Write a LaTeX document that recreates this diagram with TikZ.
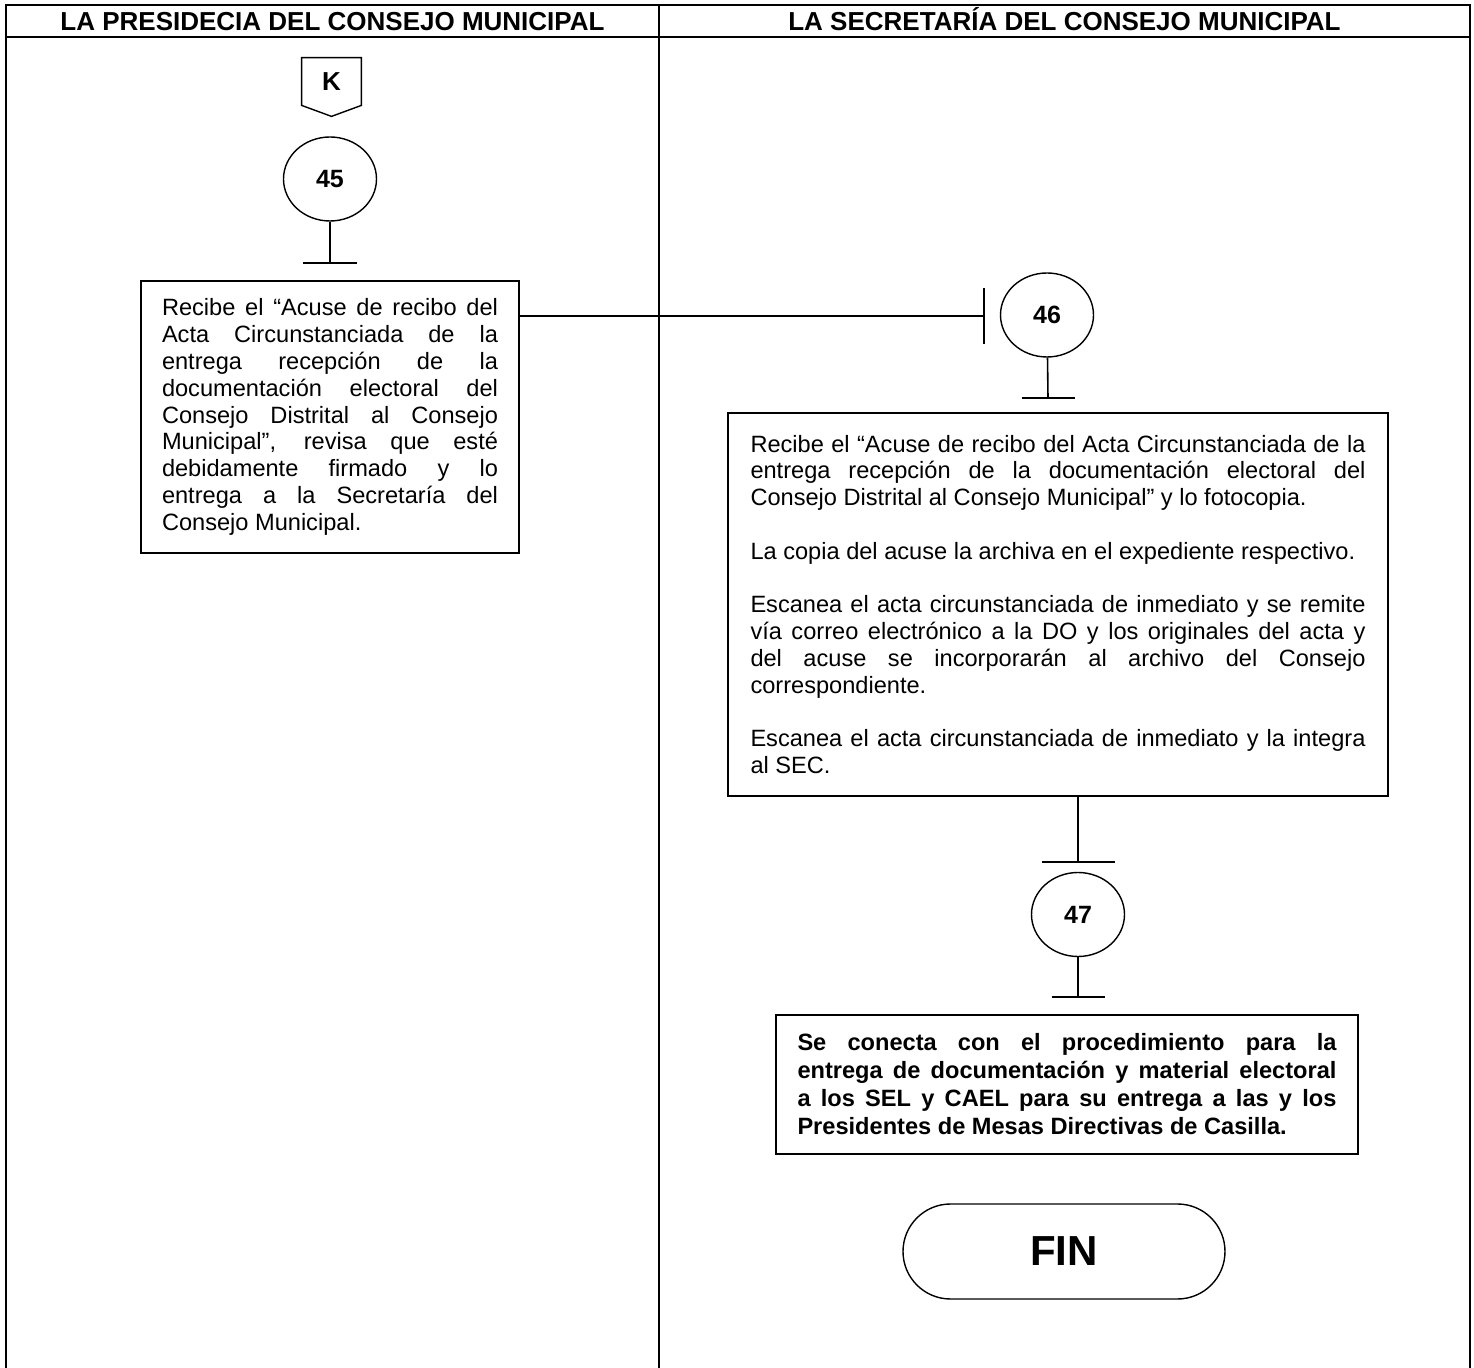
\documentclass[tikz,border=0pt]{standalone}
\usepackage{fontspec}
\setmainfont{Liberation Sans}
\usetikzlibrary{shapes.geometric}
\setlength{\parindent}{0pt}
\tolerance=10000
\hbadness=10000

\begin{document}
\begin{tikzpicture}[x=0.5pt, y=-0.5pt,
  marco/.style={line width=1.2pt},
  linea/.style={line width=0.8pt},
  titulo/.style={anchor=base, inner sep=0pt, font=\fontsize{13}{15}\selectfont\bfseries},
  paso/.style={draw, ellipse, line width=0.7pt, minimum width=46.5pt, minimum height=42pt, inner sep=0pt, font=\fontsize{12.5}{14}\selectfont\bfseries},
  caja/.style={draw, line width=0.9pt, align=justify, inner ysep=0pt, font=\fontsize{11.8}{13.4}\selectfont}]
\useasboundingbox (0,0) rectangle (1474,1368);
%枠%
\draw[marco] (6,1368) -- (6,5) -- (1470,5) -- (1470,1368);
\draw[marco] (6,37) -- (1470,37);
\draw[marco] (659,5) -- (659,1368);
%見出し%
\node[titulo] (tit1) at (332.5,31) {LA PRESIDECIA DEL CONSEJO MUNICIPAL};
\node[titulo] (tit2) at (1064.5,31) {LA SECRETARÍA DEL CONSEJO MUNICIPAL};
%結合子K%
\node[minimum width=29.5pt, minimum height=23.5pt, inner sep=0pt, font=\fontsize{13}{15}\selectfont\bfseries] (k) at (331.5,81.5) {K};
\draw[line width=0.7pt] (k.north west) -- (k.north east) -- (k.south east) -- ([yshift=-5.5pt]k.south) -- (k.south west) -- cycle;
%45%
\node[paso] (c45) at (330,179) {45};
\coordinate (t45) at (330,263);
\draw[linea] (c45) -- (t45);
\draw[linea] ([xshift=-13.5pt]t45) -- ([xshift=13.5pt]t45);
\node[caja, text width=168pt, inner xsep=10.5pt, minimum height=136pt] (b45) at (330,417) {Recibe el “Acuse de recibo del\linebreak Acta Circunstanciada de la\linebreak entrega recepción de la\linebreak documentación electoral del\linebreak Consejo Distrital al Consejo\linebreak Municipal”, revisa que esté\linebreak debidamente firmado y lo\linebreak entrega a la Secretaría del\linebreak Consejo Municipal.};
%46%
\node[paso] (c46) at (1047,315) {46};
\coordinate (t46) at (984,316);
\draw[linea] (b45.east |- t46) -- (t46);
\draw[linea] ([yshift=14pt]t46) -- ([yshift=-14pt]t46);
\coordinate (u46) at (1048,398);
\draw[linea] (c46) -- (u46);
\draw[linea] ([xshift=-13.25pt]u46) -- ([xshift=13.25pt]u46);
\node[caja, text width=307.5pt, inner xsep=11.25pt, minimum height=191.5pt] (b46) at (1058,604.5) {Recibe el “Acuse de recibo del Acta Circunstanciada de la\linebreak entrega recepción de la documentación electoral del\linebreak Consejo Distrital al Consejo Municipal” y lo fotocopia.\par\vspace{13.4pt}
La copia del acuse la archiva en el expediente respectivo.\par\vspace{13.4pt}
Escanea el acta circunstanciada de inmediato y se remite\linebreak vía correo electrónico a la DO y los originales del acta y\linebreak del acuse se incorporarán al archivo del Consejo\linebreak correspondiente.\par\vspace{13.4pt}
Escanea el acta circunstanciada de inmediato y la integra\linebreak al SEC.\par\vspace{5.5pt}};
%47%
\node[paso] (c47) at (1078,914.5) {47};
\coordinate (t47) at (1078,862);
\draw[linea] (b46.south -| c47) -- (t47);
\draw[linea] ([xshift=-18.25pt]t47) -- ([xshift=18.25pt]t47);
\coordinate (u47) at (1078,997);
\draw[linea] (c47) -- (u47);
\draw[linea] ([xshift=-13.25pt]u47) -- ([xshift=13.25pt]u47);
\node[caja, text width=269.5pt, inner xsep=10.75pt, minimum height=69.5pt, font=\fontsize{11.8}{14}\selectfont\bfseries] (b47) at (1067,1084.5) {Se conecta con el procedimiento para la\linebreak entrega de documentación y material electoral\linebreak a los SEL y CAEL para su entrega a las y los\linebreak Presidentes de Mesas Directivas de Casilla.\par\vspace{9.5pt}};
%FIN%
\node[draw, line width=0.7pt, rounded corners=23.75pt, minimum width=161pt, minimum height=47.5pt, font=\fontsize{21}{24}\selectfont\bfseries] (fin) at (1064,1251.5) {FIN};
\end{tikzpicture}
\end{document}
